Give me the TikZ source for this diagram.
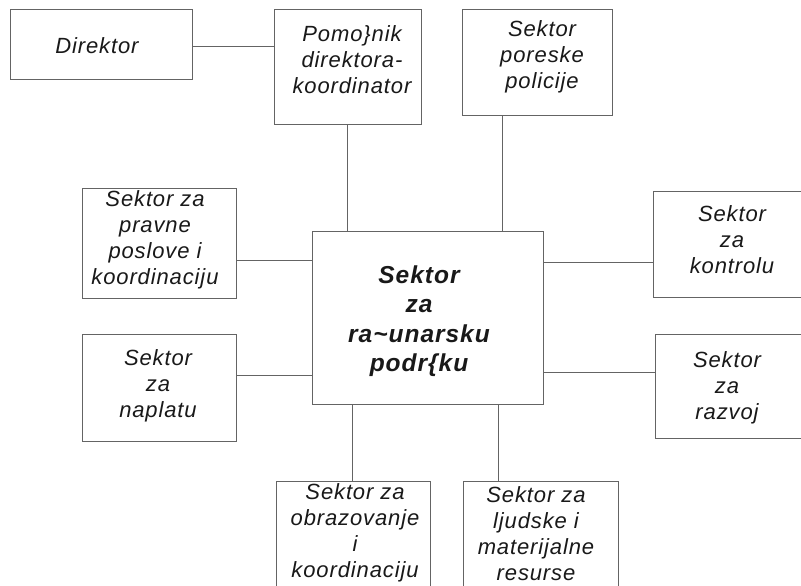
\documentclass[tikz,border=0pt]{standalone}
\usepackage{fontspec}
\setmainfont{Liberation Sans}[LetterSpace=4]
\begin{document}
\begin{tikzpicture}[x=1pt,y=-1pt,
  box/.style={draw=linec, line width=1pt, inner sep=0pt, outer sep=0pt, fill=white},
  lbl/.style={align=center, inner sep=0pt, text=black!90, font=\fontsize{22}{26}\selectfont\itshape},
  mainlbl/.style={align=center, inner sep=0pt, text=black!90, font=\fontsize{24.5}{29.5}\selectfont\bfseries\itshape},
  conn/.style={draw=linec, line width=1pt}]
\definecolor{linec}{RGB}{100,100,100}
\clip (0,0) rectangle (801,586);
\useasboundingbox (0,0) rectangle (801,586);
\fill[white] (0,0) rectangle (801,586);
% boxes
\node[box, minimum width=182pt, minimum height=70pt] (dir) at (101,45) {};
\node[box, minimum width=147pt, minimum height=114pt] (pom) at (347.5,67) {};
\node[box, minimum width=150pt, minimum height=105pt] (por) at (537,62.5) {};
\node[box, minimum width=231pt, minimum height=173pt] (c) at (427.5,317.5) {};
\node[box, minimum width=154pt, minimum height=110pt] (pr) at (159,243) {};
\node[box, minimum width=154pt, minimum height=107pt] (nap) at (159,387.5) {};
\node[box, minimum width=158pt, minimum height=106pt] (kon) at (732,244) {};
\node[box, minimum width=156pt, minimum height=104pt] (raz) at (733,386) {};
\node[box, minimum width=154pt, minimum height=120pt] (obr) at (353,541) {};
\node[box, minimum width=155pt, minimum height=120pt] (lju) at (540.5,541) {};
% texts
\node[lbl] (tdir) at (97,46) {Direktor};
\node[lbl] (tpom) at (352,60) {Pomo\}nik\\direktora-\\koordinator};
\node[lbl] (tpor) at (542,57) {Sektor\\poreske\\policije};
\node[lbl] (tpr) at (155,240) {Sektor za\\pravne\\poslove i\\koordinaciju};
\node[lbl] (tnap) at (158,386) {Sektor\\za\\naplatu};
\node[lbl] (tkon) at (732,240) {Sektor\\za\\kontrolu};
\node[lbl] (traz) at (727,388) {Sektor\\za\\razvoj};
\node[lbl] (tobr) at (355,533) {Sektor za\\obrazovanje\\i\\koordinaciju};
\node[lbl] (tlju) at (536,534) {Sektor za\\ljudske i\\materijalne\\resurse};
\node[mainlbl] (tc) at (419,321) {Sektor\\za\\ra\textasciitilde unarsku\\podr\{ku};
% connectors
\draw[conn] ([yshift=-2pt]dir.east) -- ([yshift=-2pt]dir.east -| pom.west);
\draw[conn] (pom.south) -- (pom.south |- c.north);
\draw[conn] ([xshift=-35pt]por.south) -- ([xshift=-35pt]por.south |- c.north);
\draw[conn] ([yshift=-17pt]pr.east) -- ([yshift=-17pt]pr.east -| c.west);
\draw[conn] ([yshift=12.5pt]nap.east) -- ([yshift=12.5pt]nap.east -| c.west);
\draw[conn] ([yshift=-18pt]kon.west) -- ([yshift=-18pt]kon.west -| c.east);
\draw[conn] ([yshift=14pt]raz.west) -- ([yshift=14pt]raz.west -| c.east);
\draw[conn] ([xshift=-1pt]obr.north) -- ([xshift=-1pt]obr.north |- c.south);
\draw[conn] ([xshift=-42.5pt]lju.north) -- ([xshift=-42.5pt]lju.north |- c.south);
\end{tikzpicture}
\end{document}
